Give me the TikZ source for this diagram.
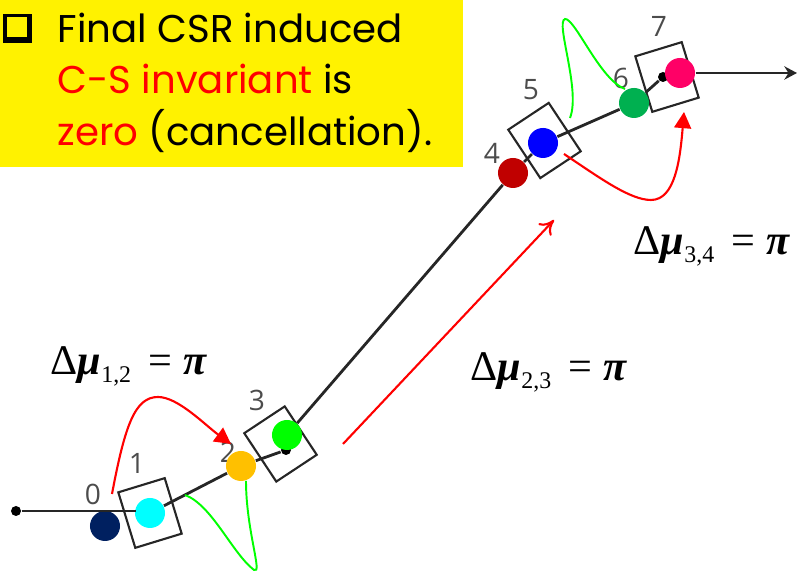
\documentclass[tikz,border=0pt]{standalone}
\usepackage{amsmath}
\usepackage{amssymb}
\usepackage{fontspec}
\setmainfont{Poppins}
\setsansfont{Open Sans}
\newfontfamily\timesfont{Liberation Serif}
\usepackage{tikz}
\usetikzlibrary{arrows.meta}

\definecolor{navybunch}{RGB}{0,32,96}
\definecolor{cyanbunch}{RGB}{0,255,255}
\definecolor{orangebunch}{RGB}{255,192,0}
\definecolor{redbunch}{RGB}{192,0,0}
\definecolor{seabunch}{RGB}{0,176,80}
\definecolor{pinkbunch}{RGB}{255,0,102}

\newcommand{\phaseadv}[1]{Δ\textbf{\textit{μ}}\raisebox{-2.2pt}{\fontsize{6.8}{8}\selectfont #1}\hspace{2pt} = \textbf{\textit{π}}}

\tikzset{
  bunch/.style={circle, fill=#1, minimum size=0.30cm, inner sep=0pt},
  beamdot/.style={circle, fill=black, minimum size=0.10cm, inner sep=0pt},
  kicker/.style={draw=black!85, line width=0.6pt, rotate=#1, minimum width=0.485cm, minimum height=0.58cm, inner sep=0pt},
  beamline/.style={draw=black!85, line width=0.8pt},
  wake/.style={draw=green, line width=0.55pt},
  phase/.style={draw=red, line width=0.6pt},
  phasetip/.style={phase, -{Triangle[length=4.6pt,width=4.8pt]}},
  dipnum/.style={text=black!70, font=\sffamily\fontsize{8}{8}\selectfont, inner sep=0pt},
  advance/.style={anchor=base west, inner sep=0pt, font=\timesfont\fontsize{12}{14}\selectfont},
  boxline/.style={anchor=base west, inner sep=0pt, font=\fontsize{11}{12}\selectfont}
}

\begin{document}
\begin{tikzpicture}[x=0.01cm, y=-0.01cm]
\useasboundingbox (0,0) rectangle (797,571);

% Text box
\fill[yellow] (0,0) rectangle (463,167);
\node[fill=black, minimum size=0.29cm, inner sep=0pt] (tickshade) at (17.5,29) {};
\node[draw=black, fill=yellow, line width=0.6pt, minimum size=0.22cm, inner sep=0pt] (tick) at (17,27) {};
\node[boxline] (line1) at (57,43) {Final CSR induced};
\node[boxline] (line2) at (57,94) {\textcolor{red}{C-S invariant} is};
\node[boxline] (line3) at (57,146) {\textcolor{red}{zero} (cancellation).};

% Dipole numbers
\node[dipnum] (num0) at (93,494) {0};
\node[dipnum] (num1) at (137,463) {1};
\node[dipnum] (num2) at (228,452) {2};
\node[dipnum] (num3) at (257,400) {3};
\node[dipnum] (num4) at (492,153) {4};
\node[dipnum] (num5) at (531,90) {5};
\node[dipnum] (num6) at (621,78) {6};
\node[dipnum] (num7) at (659,26) {7};

% Kickers
\node[kicker=17] (box1) at (150,513) {};
\node[kicker=33.5] (box3) at (280.5,444) {};
\node[kicker=33.5] (box5) at (544.5,140.5) {};
\node[kicker=17] (box7) at (667,77) {};

% Beam line ends
\node[beamdot] (start) at (16,511) {};
\node[beamdot] (dot3) at (286,450) {};
\node[beamdot] (dot7) at (663,77) {};
\coordinate (entry) at (136,511);
\coordinate (exit) at (797,73);

% Bunches
\node[bunch=navybunch] (b0) at (105,526) {};
\node[bunch=cyanbunch] (b1) at (150,513) {};
\node[bunch=orangebunch] (b2) at (241,466) {};
\node[bunch=green] (b3) at (287,435) {};
\node[bunch=redbunch] (b4) at (513,173) {};
\node[bunch=blue] (b5) at (543,143) {};
\node[bunch=seabunch] (b6) at (634,103) {};
\node[bunch=pinkbunch] (b7) at (680,73) {};

% Beam line
\draw[beamline] (start) -- (entry);
\draw[beamline] (b1) -- (b2);
\draw[beamline] (b2) -- (dot3);
\draw[beamline] (b3) -- (b4);
\draw[beamline] (b4) -- (b5);
\draw[beamline] (b5) -- (b6);
\draw[beamline] (b6) -- (dot7);
\draw[beamline, -{Stealth[length=3.6pt,width=3.8pt]}] (b7) -- (exit);

% CSR wakes
\coordinate (wakeA) at (185,495);
\coordinate (wakeB) at (246,481);
\coordinate (wakeC) at (570,118);
\coordinate (wakeD) at (625,89);
\draw[wake] (wakeA) .. controls (212,505) and (232,553) .. (254,570) .. controls (263,575) and (246,530) .. (wakeB);
\draw[wake] (wakeC) .. controls (581,90) and (555,22) .. (565,19) .. controls (575,18) and (600,80) .. (wakeD);

% Phase advances
\coordinate (kickA) at (112,494);
\coordinate (kickB) at (231,444);
\coordinate (kickC) at (564,154);
\coordinate (kickD) at (684,112);
\coordinate (kickE) at (343,444);
\coordinate (kickF) at (554,220);
\draw[phasetip] (kickA) .. controls (125,425) and (135,397) .. (158,397) .. controls (178,397) and (205,425) .. (kickB);
\draw[phasetip] (kickC) .. controls (600,178) and (630,200) .. (651,200) .. controls (675,200) and (680,160) .. (kickD);
\draw[phase, -{To[length=4pt,width=5pt]}] (kickE) -- (kickF);

\node[advance] (adv12) at (50,375) {\phaseadv{1,2}};
\node[advance] (adv23) at (470,381) {\phaseadv{2,3}};
\node[advance] (adv34) at (633,255) {\phaseadv{3,4}};
\end{tikzpicture}
\end{document}
